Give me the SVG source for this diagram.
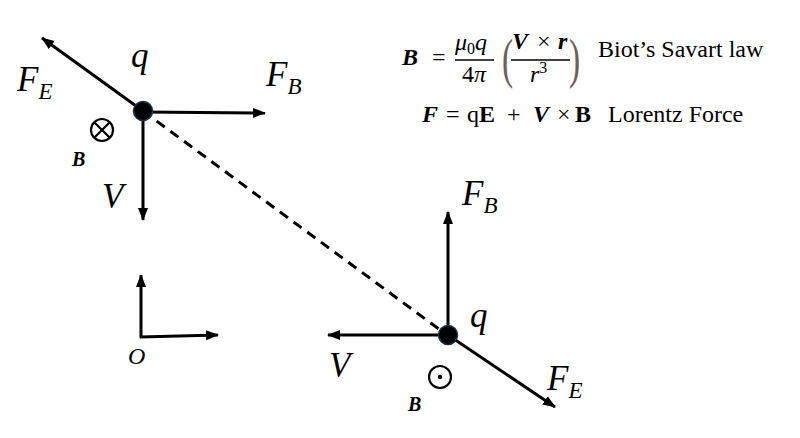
<svg xmlns="http://www.w3.org/2000/svg" width="800" height="438" viewBox="0 0 800 438">
<style>
.vec{stroke:#000;stroke-width:3;fill:none;marker-end:url(#ah)}
.lbl{font-family:"Liberation Serif",serif;font-style:italic;fill:#000}
.big{font-size:35px}
.sub{font-size:23px}
.bb{font-family:"Liberation Serif",serif;font-style:italic;font-weight:bold;font-size:20px}
.eq{font-family:"Liberation Serif",serif;font-size:24px;fill:#000}
.it{font-style:italic}
.bi{font-style:italic;font-weight:bold}
.b{font-weight:bold}
.chg{fill:#000;stroke:#1d3340;stroke-width:1.5}
.sym{fill:none;stroke:#000;stroke-width:2.2}
.par{font-family:"Liberation Serif",serif;font-size:54px;fill:#6e5f58}
</style>
<defs>
<marker id="ah" markerWidth="14" markerHeight="12" refX="12" refY="6" orient="auto" markerUnits="userSpaceOnUse">
<path d="M0,1 L13,6 L0,11 Z" fill="#000"/>
</marker>
</defs>
<rect width="800" height="438" fill="#fff"/>
<g id="connectors">
<line x1="143" y1="111" x2="447" y2="335" stroke="#000" stroke-width="3" stroke-dasharray="10,7"/>
</g>
<g id="charge-top">
<line class="vec" x1="143" y1="111" x2="42" y2="38"/>
<line class="vec" x1="143" y1="112" x2="265" y2="113"/>
<line class="vec" x1="143" y1="111" x2="143" y2="220"/>
<circle class="chg" cx="143" cy="111" r="9.5"/>
<text class="lbl big" x="131" y="67">q</text>
<text class="lbl big" x="17" y="91">F<tspan class="sub" dy="8">E</tspan></text>
<text class="lbl big" x="266" y="86">F<tspan class="sub" dy="8">B</tspan></text>
<text class="lbl big" x="102" y="208">V</text>
<circle class="sym" cx="102" cy="130" r="11"/>
<line class="sym" x1="94.2" y1="122.2" x2="109.8" y2="137.8"/>
<line class="sym" x1="109.8" y1="122.2" x2="94.2" y2="137.8"/>
<text class="bb" x="72" y="166">B</text>
</g>
<g id="charge-bottom">
<line class="vec" x1="448" y1="335" x2="448" y2="212"/>
<line class="vec" x1="448" y1="335" x2="328" y2="335"/>
<line class="vec" x1="448" y1="335" x2="555" y2="407"/>
<circle class="chg" cx="448" cy="335" r="9.5"/>
<text class="lbl big" x="470" y="327">q</text>
<text class="lbl big" x="462" y="205">F<tspan class="sub" dy="8">B</tspan></text>
<text class="lbl big" x="547" y="390">F<tspan class="sub" dy="8">E</tspan></text>
<text class="lbl big" x="329" y="377">V</text>
<circle class="sym" cx="440" cy="377" r="11"/>
<circle cx="440" cy="377" r="2.2" fill="#000"/>
<text class="bb" x="408" y="411">B</text>
</g>
<g id="axes">
<line class="vec" x1="141" y1="338" x2="141" y2="275"/>
<line class="vec" x1="140" y1="337" x2="218" y2="335"/>
<text class="lbl" x="128" y="364" font-size="24">O</text>
</g>
<g id="formula-biot">
<text class="eq bi" x="402" y="65" font-size="26">B</text>
<text class="eq" x="432" y="65">=</text>
<text class="eq" x="455" y="50"><tspan class="it">μ</tspan><tspan font-size="16" dy="4">0</tspan><tspan class="it" dy="-4">q</tspan></text>
<line x1="455" y1="60" x2="494" y2="60" stroke="#000" stroke-width="1.3"/>
<text class="eq" x="462" y="82">4<tspan class="it">π</tspan></text>
<text class="par" transform="translate(502,77) scale(0.62,1)">(</text>
<text class="eq" x="512" y="49"><tspan class="bi">V</tspan><tspan x="537">×</tspan><tspan class="bi" x="558">r</tspan></text>
<line x1="511" y1="60" x2="570" y2="60" stroke="#000" stroke-width="1.3"/>
<text class="eq" x="530" y="82"><tspan class="it">r</tspan><tspan font-size="16" dy="-9">3</tspan></text>
<text class="par" transform="translate(569,77) scale(0.62,1)">)</text>
<text class="eq" x="598" y="57">Biot’s Savart law</text>
</g>
<g id="formula-lorentz">
<text class="eq" x="422" y="122"><tspan class="bi">F</tspan><tspan x="446">=</tspan><tspan x="467">q</tspan><tspan class="b">E</tspan><tspan x="507">+</tspan><tspan class="bi" x="533">V</tspan><tspan x="557">×</tspan><tspan class="b" x="575">B</tspan></text>
<text class="eq" x="608" y="122">Lorentz Force</text>
</g>
</svg>
